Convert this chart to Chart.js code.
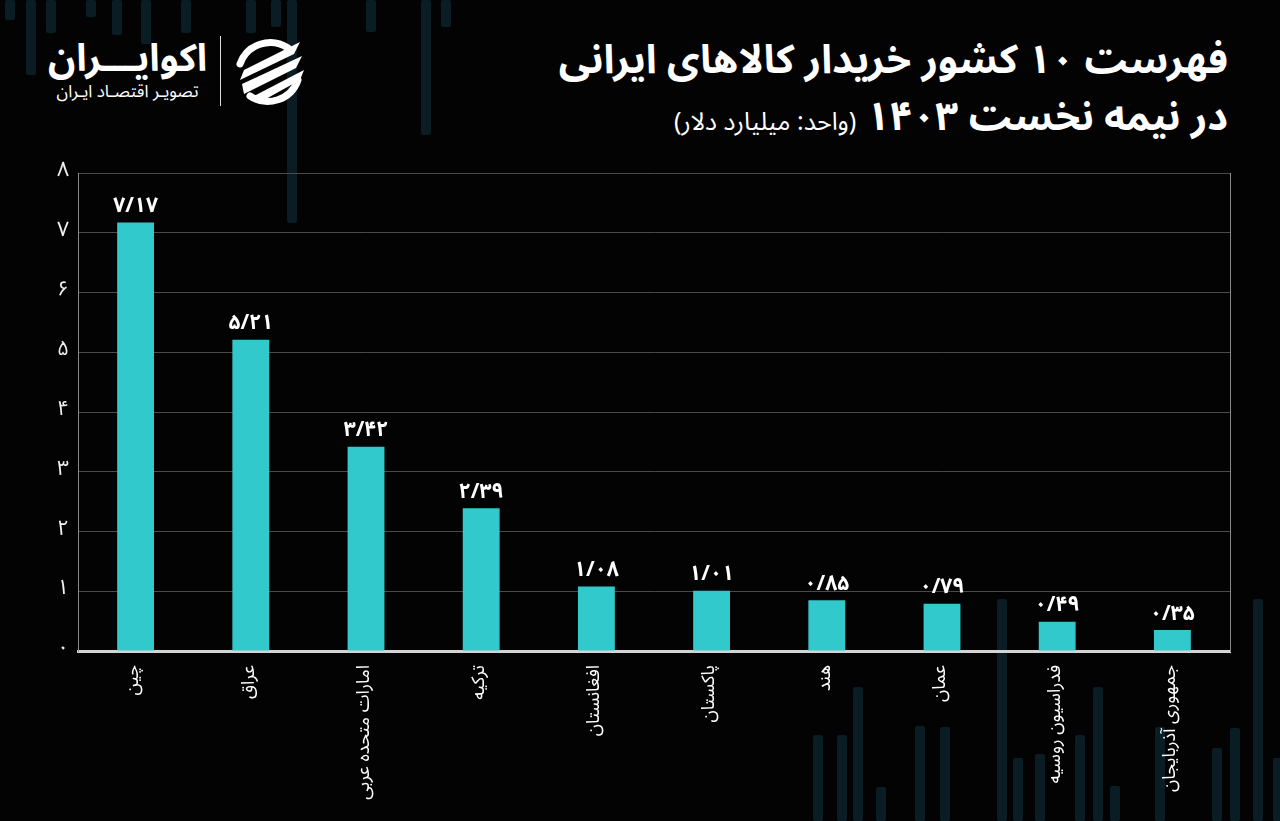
<!DOCTYPE html>
<html lang="fa">
<head>
<meta charset="utf-8">
<script src="https://cdn.jsdelivr.net/npm/chart.js@4"></script>
<style>
  html, body { margin: 0; padding: 0; background: #030303; }
  body { width: 1280px; height: 821px; position: relative; overflow: hidden;
         font-family: "Noto Sans Arabic", "DejaVu Sans", sans-serif; color: #fff; }
  .deco { position: absolute; background: #0b1d24; border-radius: 2px; }
  #wrap { position: absolute; left: 0; top: 0; width: 1280px; height: 821px; }
  .title { position: absolute; right: 52px; direction: rtl; white-space: nowrap; font-weight: bold; }
  #t1 { top: 36px; font-size: 40px; line-height: 50px; }
  #t2 { top: 93px; font-size: 40px; line-height: 50px; }
  #t2 span { font-weight: normal; font-size: 25px; }
  #logo { position: absolute; left: 48px; top: 37px; direction: rtl; text-align: center; }
  #logo .name { font-size: 38px; font-weight: bold; line-height: 44px; }
  #logo .sub { font-size: 17px; line-height: 22px; }
  #sep { position: absolute; left: 220px; top: 36px; width: 1px; height: 70px; background: #ddd; }
  #icon { position: absolute; left: 230px; top: 34px; }
</style>
</head>
<body>
<div id="deco"></div>
<div id="logo"><div class="name">اکوایـــران</div><div class="sub">تصویـر اقتصـاد ایـران</div></div>
<div id="sep"></div>
<svg id="icon" width="78" height="76" viewBox="0 0 78 76">
  <path d="M58 14 A32 32 0 0 0 10 30" stroke="#fff" stroke-width="7" fill="none" stroke-linecap="round"/>
  <path d="M20 62 A32 32 0 0 0 68 46" stroke="#fff" stroke-width="7" fill="none" stroke-linecap="round"/>
  <path d="M14 36 L70 8 L64 20 L10 46 Z" fill="#fff"/>
  <path d="M12 50 L72 22 L66 34 L14 60 Z" fill="#fff"/>
  <path d="M24 62 L74 36 L70 46 L34 66 Z" fill="#fff"/>
</svg>
<div class="title" id="t1">فهرست ۱۰ کشور خریدار کالاهای ایرانی</div>
<div class="title" id="t2">در نیمه نخست ۱۴۰۳ <span>(واحد: میلیارد دلار)</span></div>
<div id="wrap"><canvas id="chart" width="1280" height="821"></canvas></div>
<script>
// countries and export values (billion USD)
const countries = ["چین", "عراق", "امارات متحده عربی", "ترکیه", "افغانستان", "پاکستان", "هند", "عمان", "فدراسیون روسیه", "جمهوری آذربایجان"];
const values = [7.17, 5.21, 3.42, 2.39, 1.08, 1.01, 0.85, 0.79, 0.49, 0.35];
const yTicks = [0, 1, 2, 3, 4, 5, 6, 7, 8];

// faint background stripes (decoration only)
const decoStripes = [
  [5, 0, 20], [26, 0, 75], [46, 0, 33], [86, 0, 17], [112, 0, 35], [141, 0, 44], [181, 0, 33],
  [246, 0, 33], [271, 0, 27], [287, 0, 223], [366, 0, 32], [421, 0, 135], [441, 0, 27],
  [813, 735, 821], [837, 735, 821], [853, 687, 821], [876, 787, 821], [915, 726, 821],
  [940, 727, 821], [997, 599, 821], [1013, 758, 821], [1035, 754, 821], [1075, 735, 821],
  [1093, 687, 821], [1110, 786, 821], [1155, 727, 821], [1212, 748, 821], [1230, 728, 821],
  [1253, 599, 821], [1273, 758, 821]
];
const decoBox = document.getElementById("deco");
decoStripes.forEach(s => {
  const d = document.createElement("div");
  d.className = "deco";
  d.style.left = s[0] + "px";
  d.style.top = s[1] + "px";
  d.style.width = "10px";
  d.style.height = (s[2] - s[1]) + "px";
  decoBox.appendChild(d);
});

const faDigits = "۰۱۲۳۴۵۶۷۸۹";
function toFa(str) {
  return String(str).replace(/[0-9]/g, d => faDigits[+d]).replace(".", "/");
}

const FONT = '"Noto Sans Arabic", "DejaVu Sans", sans-serif';

// value labels above bars
const valueLabels = {
  id: "valueLabels",
  afterDatasetsDraw(chart) {
    const ctx = chart.ctx;
    const meta = chart.getDatasetMeta(0);
    ctx.save();
    ctx.fillStyle = "#fff";
    ctx.font = "bold 21px " + FONT;
    ctx.textAlign = "center";
    ctx.textBaseline = "bottom";
    meta.data.forEach((bar, i) => {
      ctx.fillText(toFa(values[i].toFixed(2)), bar.x, bar.y - 3);
    });
    ctx.restore();
  }
};

new Chart(document.getElementById("chart"), {
  type: "bar",
  data: {
    labels: countries,
    datasets: [{
      data: values,
      backgroundColor: "#32c9cc",
      barPercentage: 0.32,
      categoryPercentage: 1
    }]
  },
  options: {
    responsive: false,
    animation: false,
    layout: { padding: { top: 173, right: 50, left: 0, bottom: 0 } },
    plugins: { legend: { display: false }, tooltip: { enabled: false } },
    scales: {
      x: {
        grid: { display: false },
        border: { color: "#d4d4d4", width: 3 },
        ticks: {
          color: "#fff",
          font: { family: FONT, size: 18 },
          maxRotation: 90,
          minRotation: 90,
          padding: 6,
          autoSkip: false
        },
        afterFit(scale) { scale.height = 170; }
      },
      y: {
        min: 0,
        max: 8,
        afterBuildTicks(scale) { scale.ticks = yTicks.map(v => ({ value: v })); },
        grid: { color: "#4a4a4a", lineWidth: 1, drawTicks: false },
        border: { color: "#8a8a8a", width: 1 },
        ticks: {
          color: "#f0f0f0",
          font: { family: FONT, size: 21 },
          padding: 9,
          callback: v => toFa(v)
        },
        afterFit(scale) { scale.width = 78; }
      },
      y2: {
        position: "right",
        min: 0,
        max: 8,
        grid: { display: false },
        border: { color: "#8a8a8a", width: 1 },
        ticks: { display: false },
        afterFit(scale) { scale.width = 0; }
      }
    }
  },
  plugins: [valueLabels]
});
</script>
</body>
</html>
